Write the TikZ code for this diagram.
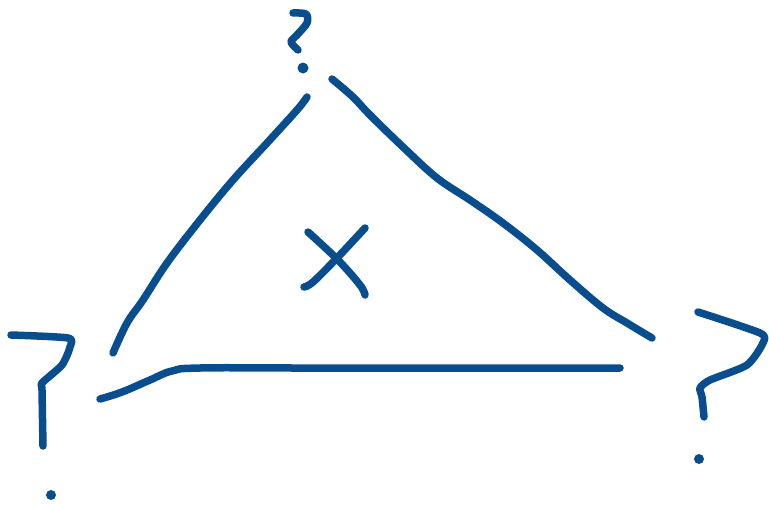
\documentclass[tikz,border=0pt]{standalone}
\definecolor{marker}{RGB}{8,78,142}
\usepackage{tikz}
\tikzset{pen/.style={marker, line width=7.5pt, line cap=round, line join=round}}

\begin{document}
\begin{tikzpicture}[x=1pt, y=-1pt]
        \useasboundingbox (0,0) rectangle (769,504);

        % triangle, three freehand strokes
        \draw[pen] plot[smooth, tension=0.6] coordinates {(307,97) (297,110) (267,143) (233,180) (200,220) (167,263) (143,300) (127,323) (113,353)};
        \draw[pen] plot[smooth, tension=0.6] coordinates {(332,79) (353,97) (370,115) (403,147) (437,178) (470,200) (503,223) (537,250) (570,280) (603,308) (627,323) (652,338)};
        \draw[pen] plot[smooth, tension=0.7] coordinates {(100,399) (122,392) (150,380) (172,371) (200,368) (300,368) (450,368) (620,368)};

        % cross in the middle
        \draw[pen] plot[smooth, tension=0.6] coordinates {(308,232) (338,260) (360,285) (365,295)};
        \draw[pen] plot[smooth, tension=0.6] coordinates {(365,228) (337,258) (313,282) (304,287)};

        % top question mark
        \draw[pen] plot[smooth, tension=0.5] coordinates {(293,13) (306,14) (307,23) (297,35) (291,42) (298,50)};
        \fill[marker] (303,68) circle (5.5pt);

        % left question mark
        \draw[pen] plot[smooth, tension=0.4] coordinates {(11,335) (68,338) (70,347) (62,365) (42,383) (42,390) (43,446)};
        \fill[marker] (51,495) circle (5pt);

        % right question mark
        \draw[pen] plot[smooth, tension=0.4] coordinates {(698,312) (760,333) (763,343) (747,365) (710,380) (700,388) (702,397) (704,417)};
        \fill[marker] (699,459) circle (5pt);
\end{tikzpicture}
\end{document}
